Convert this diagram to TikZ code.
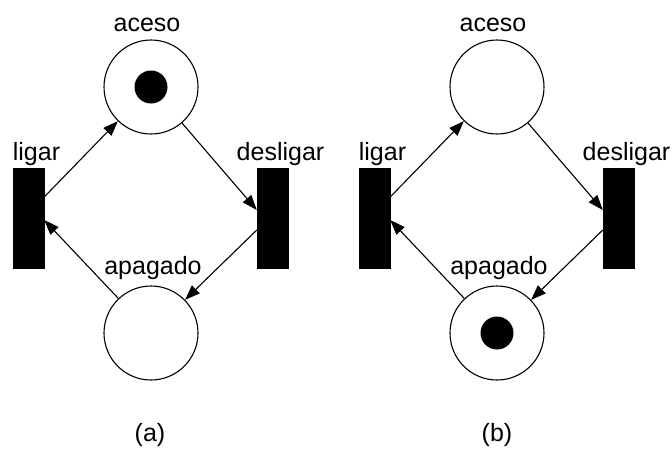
\documentclass[tikz,border=0pt]{standalone}
\usepackage{fontspec}
\setmainfont{Liberation Sans}
\usetikzlibrary{arrows.meta}
\begin{document}
\begin{tikzpicture}[x=1pt,y=-1pt,
  place/.style={circle,draw=black,line width=1.1pt,minimum size=94pt,inner sep=0pt},
  trans/.style={rectangle,fill=black,draw=black,minimum width=31pt,minimum height=100pt,inner sep=0pt},
  token/.style={circle,fill=black,minimum size=33pt,inner sep=0pt},
  lbl/.style={font=\fontsize{25}{30}\selectfont,inner sep=0pt,anchor=base},
  arc/.style={line width=1.1pt,-{Triangle[length=15pt,width=11pt]}}
]
\useasboundingbox (0,0) rectangle (672,448);

% ---------- net (a): lamp on ----------
\node[place] (aA) at (151,87) {};
\node[token] (tA) at (aA.center) {};
\node[place] (pA) at (151,333) {};
\node[trans] (lA) at (28.5,218) {};
\node[trans] (dA) at (272.5,218) {};
\node[lbl] (aAl) at (147,31) {aceso};
\node[lbl] (pAl) at (153,274) {apagado};
\node[lbl] (lAl) at (36.5,160) {ligar};
\node[lbl] (dAl) at (280.5,160) {desligar};
\node[lbl] (capA) at (150,441) {(a)};

\draw[arc] ([yshift=21pt]lA.east) -- (aA);
\draw[arc] (aA) -- ([yshift=8pt]dA.west);
\draw[arc] ([yshift=-12pt]dA.west) -- (pA);
\draw[arc] (pA) -- ([yshift=-2pt]lA.east);

% ---------- net (b): lamp off ----------
\node[place] (aB) at (497,87) {};
\node[place] (pB) at (497,333) {};
\node[token] (tB) at (pB.center) {};
\node[trans] (lB) at (374.5,218) {};
\node[trans] (dB) at (618.5,218) {};
\node[lbl] (aBl) at (493,31) {aceso};
\node[lbl] (pBl) at (499,274) {apagado};
\node[lbl] (lBl) at (382.5,160) {ligar};
\node[lbl] (dBl) at (626.5,160) {desligar};
\node[lbl] (capB) at (497,441) {(b)};

\draw[arc] ([yshift=21pt]lB.east) -- (aB);
\draw[arc] (aB) -- ([yshift=8pt]dB.west);
\draw[arc] ([yshift=-12pt]dB.west) -- (pB);
\draw[arc] (pB) -- ([yshift=-2pt]lB.east);
\end{tikzpicture}
\end{document}
